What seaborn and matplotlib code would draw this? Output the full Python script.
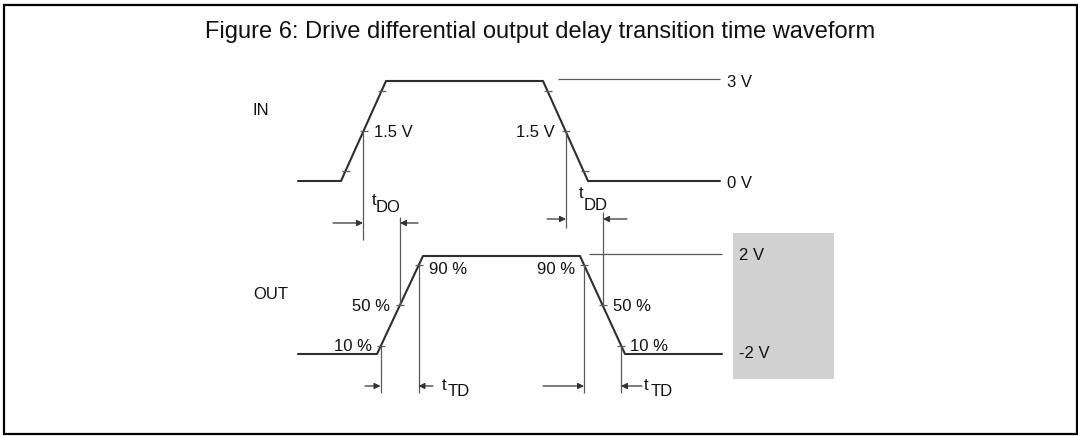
"""
Drive differential output delay transition time waveform
"""
import pandas as pd
import matplotlib.pyplot as plt
from matplotlib.patches import Rectangle
import seaborn as sns

sns.set_theme(style="white")
plt.rcParams['font.family'] = ['Liberation Sans', 'DejaVu Sans']

# drawing units: x = time axis, y = level (downwards, like the page)
in_t = [298, 341, 386, 543, 588, 720]
in_v = [181, 181, 81, 81, 181, 181]
out_t = [298, 377, 423, 580, 625, 722]
out_v = [354, 354, 256, 256, 354, 354]

# 10/50/90 % crossing marks on the edges
in_mark_t = [345.5, 363.5, 381.5, 548, 566, 585]
in_mark_v = [171, 131, 91, 91, 131, 171]
out_mark_t = [380.5, 400, 418.5, 584, 602.5, 621]
out_mark_v = [346, 305, 264.5, 264.5, 305, 346]

# guide lines: x, top, bottom
guide_t = [363, 400, 566, 603, 380.5, 418.5, 584, 621]
guide_top = [131, 217, 131, 212, 346, 264.5, 264.5, 346]
guide_bot = [240, 305, 228, 305, 393, 393, 393, 393]

# reference levels: y, start, end
ref_v = [79.5, 254]
ref_start = [558, 589]
ref_end = [720, 722]

# dimension arrows: tail, tip, y
arrow_tail = [333, 418, 547, 627, 365, 433, 543, 642]
arrow_tip = [363, 400, 566, 603, 380.5, 418.5, 584, 621]
arrow_v = [223, 223, 219, 219, 386, 386, 386, 386]

# text labels: text, x, baseline, alignment
label_text = ['IN', 'OUT', '1.5 V', '1.5 V', '3 V', '0 V', '90 %', '50 %', '10 %',
              '90 %', '50 %', '10 %', '2 V', '-2 V']
label_x = [253, 253, 374, 555, 727, 727, 429, 390, 372, 575, 613, 630, 739, 739]
label_y = [115, 299, 137, 137, 87, 188, 274, 311, 351, 274, 311, 351, 260, 358]
label_ha = ['left', 'left', 'left', 'right', 'left', 'left', 'left', 'right', 'right',
            'right', 'left', 'left', 'left', 'left']

# time symbols: "t" position and its subscript position
sym_sub = ['DO', 'DD', 'TD', 'TD']
sym_x = [372, 579, 442, 644]
sym_y = [205, 198, 390, 390]
sym_sub_x = [376, 584, 448, 651]
sym_sub_y = [212, 210, 396, 396]

W, H = 1078, 436
fig = plt.figure(figsize=(W / 100, H / 100), dpi=100)
ax = fig.add_axes([0, 0, 1, 1])

wave = '#2e2e2e'
thin = '#5a5a5a'

ax.add_patch(Rectangle((733, 233), 101, 146, facecolor='#d1d1d1', edgecolor='none'))

sns.lineplot(x=in_t, y=in_v, ax=ax, sort=False, estimator=None, color=wave, linewidth=1.5)
sns.lineplot(x=out_t, y=out_v, ax=ax, sort=False, estimator=None, color=wave, linewidth=1.5)

ax.hlines(ref_v, ref_start, ref_end, color=thin, linewidth=0.9)
ax.vlines(guide_t, guide_top, guide_bot, color=thin, linewidth=0.9)

marks = pd.DataFrame({'t': in_mark_t + out_mark_t, 'v': in_mark_v + out_mark_v})
ax.hlines(marks['v'], marks['t'] - 4, marks['t'] + 4, color=thin, linewidth=0.9)

for tail, tip, v in zip(arrow_tail, arrow_tip, arrow_v):
    ax.annotate('', xy=(tip, v), xytext=(tail, v),
                arrowprops=dict(arrowstyle='-|>', color='#333333', lw=0.9,
                                mutation_scale=9, shrinkA=0, shrinkB=0))

for s, x, y, ha in zip(label_text, label_x, label_y, label_ha):
    ax.text(x, y, s, ha=ha, va='baseline', fontsize=12, color='#111111')

for sub, x, y, sx, sy in zip(sym_sub, sym_x, sym_y, sym_sub_x, sym_sub_y):
    ax.text(x, y, 't', ha='left', va='baseline', fontsize=12, color='#111111')
    ax.text(sx, sy, sub, ha='left', va='baseline', fontsize=12, color='#111111')

ax.text(540, 38, 'Figure 6: Drive differential output delay transition time waveform',
        ha='center', va='baseline', fontsize=17, color='#111111')

ax.add_patch(Rectangle((3.5, 5.5), 1073, 428.5, facecolor='none', edgecolor='black',
                       linewidth=1.6))

ax.set_xlim(0, W)
ax.set_ylim(H, 0)
ax.axis('off')

fig.savefig('out.png', dpi=100)
